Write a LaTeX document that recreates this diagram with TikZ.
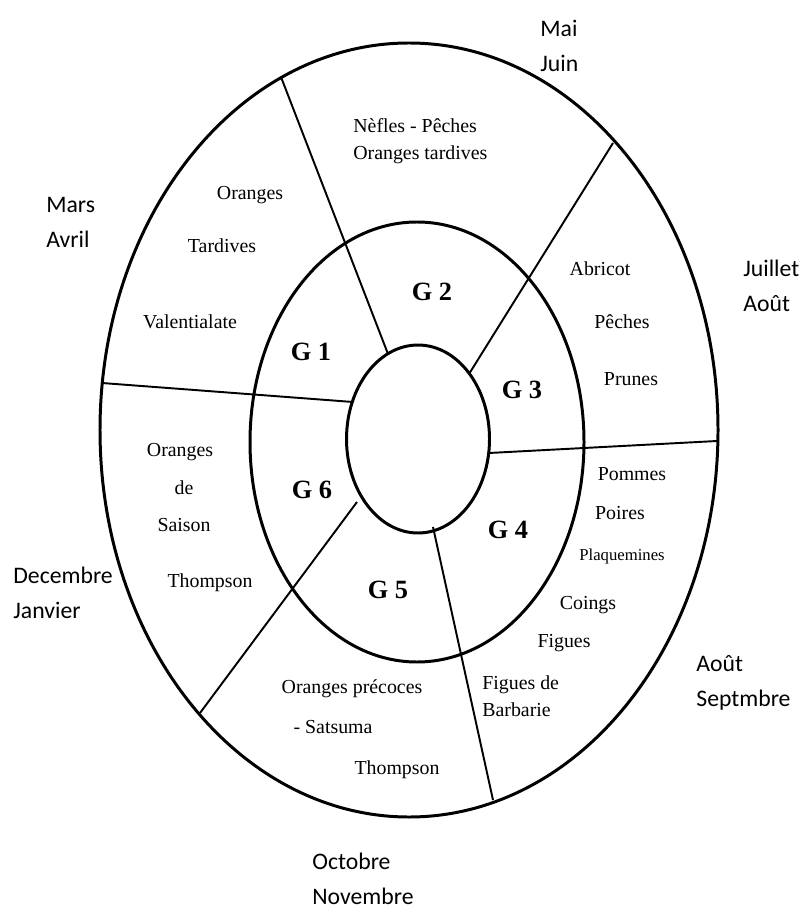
\documentclass[tikz,border=0pt]{standalone}
\usepackage{fontspec}
\setmainfont{Liberation Serif}
\newfontfamily\monthfont{Carlito}
\usepackage{tikz}

\begin{document}
\begin{tikzpicture}[
				x=0.02cm, y=-0.02cm,
				ring/.style={line width=1.7pt},
				spoke/.style={line width=1.1pt},
				fruit/.style={inner sep=0pt, align=center, font=\fontsize{11.3}{15.6}\selectfont},
				group/.style={inner sep=0pt, font=\fontsize{15}{18}\selectfont\bfseries},
				month/.style={inner sep=0pt, anchor=north west, align=left, font=\monthfont\fontsize{13.5}{19.8}\selectfont}
			]
			\useasboundingbox (0,0) rectangle (805,908);

			% Rings
			\draw[ring] (409,430) ellipse [x radius=309, y radius=387];
			\draw[ring] (417,442) ellipse [x radius=167, y radius=220];
			\draw[ring] (418,439) ellipse [x radius=71.5, y radius=94];

			% Spokes, outer ring to inner ring
			\coordinate (o1) at (281,77);  \coordinate (i1) at (388,354);
			\coordinate (o2) at (613,143); \coordinate (i2) at (469,374);
			\coordinate (o3) at (717,441); \coordinate (i3) at (489,453);
			\coordinate (o4) at (493,800); \coordinate (i4) at (433,527);
			\coordinate (o5) at (200,713); \coordinate (i5) at (357,502);
			\coordinate (o6) at (102,383); \coordinate (i6) at (353,402);
			\draw[spoke] (o1) -- (i1);
			\draw[spoke] (o2) -- (i2);
			\draw[spoke] (o3) -- (i3);
			\draw[spoke] (o4) -- (i4);
			\draw[spoke] (o5) -- (i5);
			\draw[spoke] (o6) -- (i6);

			% Groups
			\node[group] (g1) at (311,352) {G 1};
			\node[group] (g2) at (432,292) {G 2};
			\node[group] (g3) at (522,390) {G 3};
			\node[group] (g4) at (508,530) {G 4};
			\node[group] (g5) at (388,590) {G 5};
			\node[group] (g6) at (312,490) {G 6};

			% Fruits
			\node[fruit] (oranges1) at (250,195) {Oranges};
			\node[fruit] (tardives) at (222,246) {Tardives};
			\node[fruit] (valentia) at (190,322) {Valentialate};
			\node[fruit, anchor=north west, align=left] (nefles) at (353,118) {Nèfles - Pêches\\Oranges tardives};
			\node[fruit] (abricot) at (600,269) {Abricot};
			\node[fruit] (peches) at (622,322) {Pêches};
			\node[fruit] (prunes) at (631,379) {Prunes};
			\node[fruit] (pommes) at (632,474) {Pommes};
			\node[fruit] (poires) at (620,513) {Poires};
			\node[fruit, font=\fontsize{9.5}{11}\selectfont] (plaquemines) at (622,556) {Plaquemines};
			\node[fruit] (coings) at (588,605) {Coings};
			\node[fruit] (figues) at (564,643) {Figues};
			\node[fruit, anchor=north west, align=left] (barbarie) at (482,675) {Figues de\\Barbarie};
			\node[fruit] (precoces) at (352,689) {Oranges précoces};
			\node[fruit] (satsuma) at (333,727) {- Satsuma};
			\node[fruit] (thompson5) at (397,770) {Thompson};
			\node[fruit] (oranges6) at (180,452) {Oranges};
			\node[fruit] (de) at (184,488) {de};
			\node[fruit] (saison) at (184,525) {Saison};
			\node[fruit] (thompson6) at (210,583) {Thompson};

			% Months
			\node[month] (maijuin) at (540,20) {Mai\\Juin};
			\node[month] (marsavril) at (46,197) {Mars\\Avril};
			\node[month] (juilletaout) at (743,260) {Juillet\\Août};
			\node[month] (decjan) at (13,567) {Decembre\\Janvier};
			\node[month] (aoutsept) at (696,655) {Août\\Septmbre};
			\node[month] (octnov) at (312,853) {Octobre\\Novembre};
		\end{tikzpicture}
\end{document}
